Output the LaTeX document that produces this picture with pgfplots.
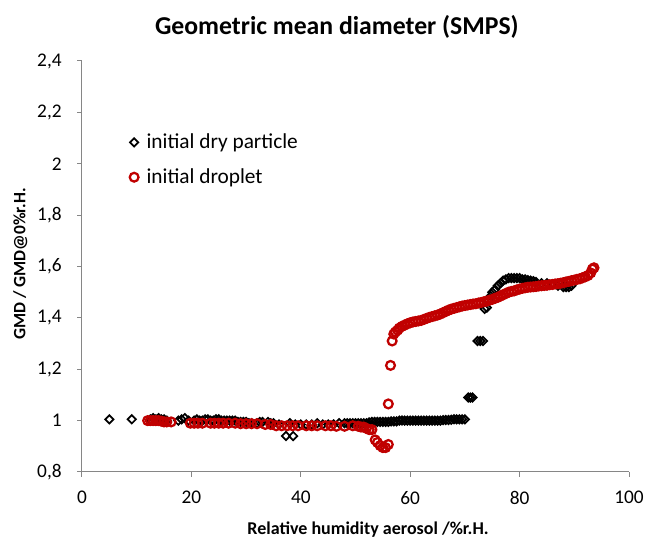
\documentclass[border=0pt]{standalone}
\usepackage{fontspec}
\setmainfont{Carlito}
\usepackage{pgfplots}
\pgfplotsset{compat=1.18}
\definecolor{axgray}{HTML}{868686}
\definecolor{dropred}{HTML}{C00000}

\pgfplotstableread{
x y
5.0 1.005
9.1 1.005
12.5 1.005
13.0 1.01
13.5 1.005
14.0 1.01
14.5 1.005
15.0 1.005
15.5 1.0
17.6 1.0
18.2 1.005
18.8 1.01
19.5 1.0
20.5 1.0
21.0 1.005
21.5 1.0
22.0 1.0
22.5 1.005
23.0 1.005
23.5 1.0
24.0 1.0
24.5 1.005
25.0 1.005
25.5 1.0
26.0 1.0
26.5 1.0
27.0 1.0
27.5 1.0
28.0 1.0
28.5 0.995
29.0 0.995
29.5 0.995
30.0 0.995
30.5 0.99
31.0 0.99
32.0 0.99
32.5 0.995
33.0 0.995
34.0 0.995
34.5 0.99
35.0 0.99
36.0 0.985
37.3 0.94
38.6 0.94
38.0 0.99
39.0 0.985
40.0 0.985
41.0 0.985
42.0 0.985
43.0 0.99
44.0 0.985
45.0 0.985
46.0 0.985
47.0 0.99
48.0 0.99
48.5 0.99
49.0 0.99
49.5 0.99
50.0 0.99
50.5 0.99
51.0 0.99
51.5 0.99
52.0 0.99
52.5 0.993
53.0 0.995
53.5 0.995
54.0 0.995
54.5 0.995
55.0 0.995
55.5 0.995
56.0 0.995
56.5 0.997
57.0 0.997
57.5 0.997
58.0 1.0
58.5 1.0
59.0 1.0
59.5 1.0
60.0 1.0
60.5 1.0
61.0 1.0
61.5 1.0
62.0 1.0
62.5 1.0
63.0 1.0
63.5 1.0
64.0 1.0
64.5 1.0
65.0 1.0
65.5 1.0
66.0 1.002
66.5 1.002
67.0 1.002
67.5 1.003
68.0 1.005
68.5 1.005
69.0 1.005
69.5 1.005
70.0 1.005
70.6 1.09
71.0 1.09
71.4 1.09
72.3 1.31
72.8 1.31
73.3 1.31
73.6 1.435
74.0 1.44
74.3 1.465
74.7 1.485
75.0 1.50
75.5 1.51
76.0 1.525
76.5 1.535
77.0 1.545
77.5 1.55
78.0 1.555
78.5 1.555
79.0 1.555
79.5 1.555
80.0 1.555
80.5 1.55
81.0 1.55
81.5 1.547
82.0 1.545
82.5 1.543
83.0 1.54
84.0 1.535
85.0 1.535
86.0 1.53
87.0 1.525
88.0 1.52
88.5 1.52
89.0 1.52
89.5 1.525
}\drydata

\pgfplotstableread{
x y
12.0 1.0
12.5 1.0
13.0 1.0
13.5 1.0
14.0 1.0
14.5 0.998
15.0 0.995
15.5 0.995
16.3 0.995
19.8 0.99
20.5 0.99
21.2 0.99
22.0 0.99
23.5 0.99
24.2 0.99
25.0 0.99
25.8 0.99
26.8 0.99
28.0 0.99
29.0 0.988
30.0 0.988
31.0 0.988
32.0 0.988
33.5 0.985
34.5 0.985
35.5 0.98
36.5 0.98
37.5 0.98
38.5 0.98
39.5 0.98
41.0 0.98
42.0 0.98
43.0 0.98
44.5 0.98
45.5 0.98
46.5 0.978
48.0 0.978
49.5 0.98
50.5 0.978
51.0 0.975
51.5 0.975
52.0 0.97
52.5 0.965
53.0 0.965
53.6 0.925
54.0 0.915
54.5 0.903
55.0 0.895
55.5 0.895
56.0 0.907
56.0 1.065
56.4 1.215
56.7 1.31
57.0 1.337
57.3 1.345
57.7 1.352
58.0 1.36
58.5 1.367
59.0 1.372
59.5 1.377
60.0 1.381
60.5 1.384
61.0 1.386
61.5 1.388
62.0 1.39
62.5 1.394
63.0 1.398
63.5 1.402
64.0 1.405
64.5 1.408
65.0 1.411
65.5 1.415
66.0 1.42
66.5 1.425
67.0 1.43
67.5 1.434
68.0 1.437
68.5 1.44
69.0 1.443
69.5 1.446
70.0 1.448
70.5 1.45
71.0 1.452
71.5 1.454
72.0 1.455
72.5 1.458
73.0 1.46
73.5 1.463
74.0 1.465
74.5 1.469
75.0 1.472
75.5 1.476
76.0 1.48
76.5 1.485
77.0 1.49
77.5 1.495
78.0 1.5
78.5 1.503
79.0 1.505
79.5 1.509
80.0 1.512
80.5 1.515
81.0 1.517
81.5 1.519
82.0 1.52
82.5 1.521
83.0 1.522
83.5 1.524
84.0 1.525
84.5 1.526
85.0 1.527
85.5 1.529
86.0 1.53
86.5 1.532
87.0 1.533
87.5 1.535
88.0 1.537
88.5 1.54
89.0 1.542
89.5 1.545
90.0 1.547
90.5 1.55
91.0 1.552
91.5 1.556
92.0 1.56
92.5 1.565
93.0 1.575
93.3 1.59
93.6 1.595
}\dropdata

\begin{document}
\begin{tikzpicture}
\path[use as bounding box] (-61.5pt,-51.75pt) rectangle (425.25pt,354pt);
\begin{axis}[
  scale only axis, width=410.25pt, height=308.25pt,
  at={(0,0)}, anchor=south west,
  xmin=0, xmax=100, ymin=0.8, ymax=2.4,
  xtick={0,20,40,60,80,100},
  ytick={0.8,1,1.2,1.4,1.6,1.8,2,2.2,2.4},
  axis x line=bottom, axis y line=left,
  axis line style={axgray, line width=0.75pt, -},
  tick style={axgray, line width=0.75pt},
  tick align=outside, major tick length=3.75pt,
  /pgf/number format/.cd, use comma, fixed, precision=1, assume math mode=true, /pgfplots/.cd,
  tick label style={font=\fontsize{14.5}{17}\selectfont, black},
  yticklabel style={xshift=-8pt},
  xticklabel style={yshift=-7pt},
  title={Geometric mean diameter (SMPS)},
  title style={font=\fontsize{19.3}{22}\bfseries, at={(axis description cs:0.466,1.063)}, anchor=center},
  xlabel={Relative humidity aerosol /\%r.H.},
  xlabel style={font=\fontsize{13.5}{16}\bfseries, at={(axis description cs:0.523,-0.141)}, anchor=center},
  ylabel={GMD / GMD@0\%r.H.},
  ylabel style={font=\fontsize{13}{15}\bfseries, at={(axis description cs:-0.113,0.506)}, anchor=center, rotate=0},
  legend style={at={(axis description cs:0.0795,0.836)}, anchor=north west, draw=none, fill=none,
    font=\fontsize{16}{19}\selectfont, row sep=9.5pt,
    /tikz/every odd column/.append style={column sep=4pt}},
  legend cell align=left,
]
\addplot[only marks, mark=square, mark size=2.2pt, mark options={rotate=45, line width=1.3pt, black}] table {\drydata};
\addlegendentry{initial dry particle}
\addplot[only marks, mark=o, mark size=3.3pt, mark options={line width=1.7pt, dropred}] table {\dropdata};
\addlegendentry{initial droplet}
\end{axis}
\end{tikzpicture}
\end{document}
